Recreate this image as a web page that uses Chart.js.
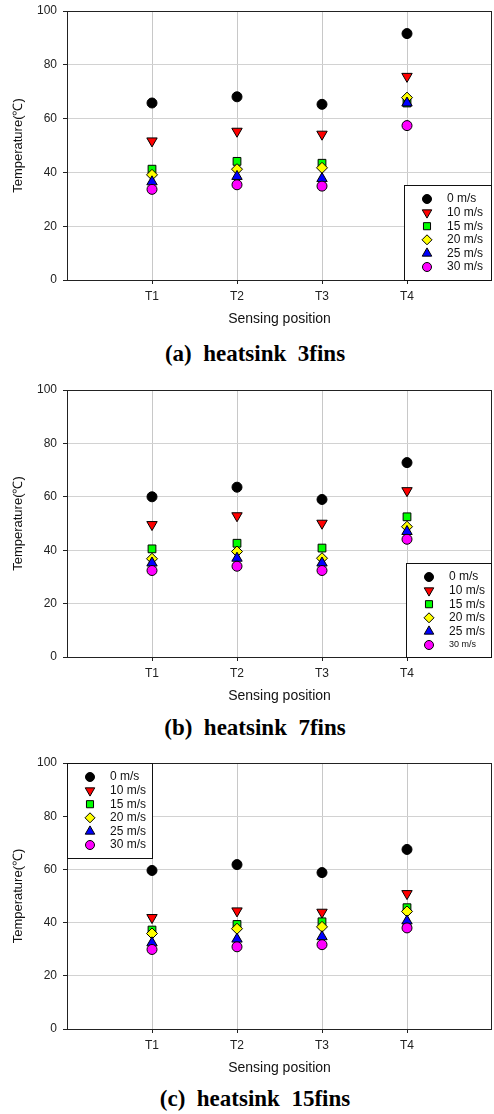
<!DOCTYPE html>
<html>
<head>
<meta charset="utf-8">
<script src="https://cdn.jsdelivr.net/npm/chart.js@4"></script>
<style>
  body { margin: 0; background: #fff; }
  #wrap { position: relative; width: 494px; height: 1114px; overflow: hidden; }
  canvas { position: absolute; left: 0; }
  .cap {
    position: absolute; left: 0; width: 510px; text-align: center;
    font: bold 23px "Liberation Serif", "Times New Roman", serif;
    white-space: pre; line-height: 23px; color: #000;
  }
</style>
</head>
<body>
<div id="wrap"></div>
<script>
'use strict'

// categories / legend / ticks
const positions = ['T1', 'T2', 'T3', 'T4'];
const speeds = ['0 m/s', '10 m/s', '15 m/s', '20 m/s', '25 m/s', '30 m/s'];
const yTicks = [0, 20, 40, 60, 80, 100];

// (a) 3 fins
const fins3_0 = [65.8, 68.1, 65.3, 91.6];
const fins3_10 = [51.7, 55.3, 54.2, 75.7];
const fins3_15 = [41.2, 44.1, 43.4, 65.8];
const fins3_20 = [39.1, 41.2, 41.7, 67.8];
const fins3_25 = [36.5, 38.5, 37.7, 65.8];
const fins3_30 = [33.7, 35.4, 34.9, 57.4];

// (b) 7 fins
const fins7_0 = [60.0, 63.6, 59.0, 72.8];
const fins7_10 = [49.6, 52.9, 50.1, 62.3];
const fins7_15 = [40.5, 42.6, 40.8, 52.5];
const fins7_20 = [36.8, 39.5, 37.0, 48.8];
const fins7_25 = [35.2, 37.0, 35.2, 47.0];
const fins7_30 = [32.4, 34.0, 32.4, 44.1];

// (c) 15 fins
const fins15_0 = [59.6, 61.8, 58.8, 67.5];
const fins15_10 = [41.9, 44.4, 43.9, 50.9];
const fins15_15 = [37.2, 39.3, 40.3, 45.6];
const fins15_20 = [35.9, 37.7, 38.4, 44.2];
const fins15_25 = [32.4, 33.8, 34.7, 40.6];
const fins15_30 = [29.9, 30.9, 31.7, 38.0];

// marker look of each series
const markers = [
  { style: 'circle', color: '#000000', radius: 5, rotation: 0 },
  { style: 'triangle', color: '#ff0000', radius: 6, rotation: 180 },
  { style: 'rect', color: '#00ff00', radius: 5.5, rotation: 0 },
  { style: 'rectRot', color: '#ffff00', radius: 5.5, rotation: 0 },
  { style: 'triangle', color: '#0000ff', radius: 6, rotation: 0 },
  { style: 'circle', color: '#ff00ff', radius: 5, rotation: 0 }
];

const panels = [
  { caption: '(a)  heatsink  3fins', capY: 342, top: 0, height: 330, padTop: 11,
    series: [fins3_0, fins3_10, fins3_15, fins3_20, fins3_25, fins3_30],
    legend: { side: 'right', vert: 'bottom', w: 88, h: 95, smallLast: false } },
  { caption: '(b)  heatsink  7fins', capY: 716, top: 378, height: 329, padTop: 12,
    series: [fins7_0, fins7_10, fins7_15, fins7_20, fins7_25, fins7_30],
    legend: { side: 'right', vert: 'bottom', w: 86, h: 94, smallLast: true } },
  { caption: '(c)  heatsink  15fins', capY: 1087, top: 751, height: 328, padTop: 12,
    series: [fins15_0, fins15_10, fins15_15, fins15_20, fins15_25, fins15_30],
    legend: { side: 'left', vert: 'top', w: 86, h: 95, smallLast: false } }
];

const FONT = 'Liberation Sans, Arial, sans-serif';

// box round the plot area
const frame = {
  id: 'frame',
  beforeDatasetsDraw(chart) {
    const a = chart.chartArea, ctx = chart.ctx;
    ctx.save();
    ctx.strokeStyle = '#222';
    ctx.lineWidth = 1;
    ctx.strokeRect(a.left + 0.5, a.top + 0.5, a.right - a.left - 1, a.bottom - a.top);
    ctx.restore();
  }
};

// legend box drawn inside the plot
const insideLegend = {
  id: 'insideLegend',
  afterDatasetsDraw(chart, args, opts) {
    const a = chart.chartArea, ctx = chart.ctx;
    const x = opts.side === 'left' ? a.left : a.right - opts.w;
    const y = opts.vert === 'top' ? a.top : a.bottom - opts.h;
    ctx.save();
    ctx.fillStyle = '#fff';
    ctx.fillRect(x, y, opts.w, opts.h);
    ctx.strokeStyle = '#111';
    ctx.lineWidth = 1;
    ctx.strokeRect(x + 0.5, y + 0.5, opts.w - 1, opts.h);
    chart.data.datasets.forEach((ds, i) => {
      const cy = y + 14 + i * 13.6;
      ctx.fillStyle = ds.backgroundColor;
      ctx.strokeStyle = '#000';
      Chart.helpers.drawPoint(ctx, {
        pointStyle: ds.pointStyle, radius: ds.pointRadius - 0.5,
        rotation: ds.pointRotation, borderWidth: 1
      }, x + 23, cy);
      const small = opts.smallLast && i === chart.data.datasets.length - 1;
      ctx.fillStyle = '#111';
      ctx.font = (small ? 9 : 12) + 'px ' + FONT;
      ctx.textBaseline = 'middle';
      ctx.fillText(ds.label, x + 43, cy);
    });
    ctx.restore();
  }
};

const wrap = document.getElementById('wrap');

panels.forEach(p => {
  // canvas a bit wider than the page: chart.js keeps ~5px spare on the right
  const cv = document.createElement('canvas');
  cv.width = 499;
  cv.height = p.height;
  cv.style.top = p.top + 'px';
  wrap.appendChild(cv);

  const cap = document.createElement('div');
  cap.className = 'cap';
  cap.style.top = p.capY + 'px';
  cap.textContent = p.caption;
  wrap.appendChild(cap);

  const datasets = p.series.map((vals, i) => ({
    label: speeds[i],
    data: vals.map((v, k) => ({ x: k + 1, y: v })),
    showLine: false,
    pointStyle: markers[i].style,
    pointRadius: markers[i].radius,
    pointRotation: markers[i].rotation,
    backgroundColor: markers[i].color,
    borderColor: '#000',
    borderWidth: 1,
    order: speeds.length - i
  }));

  new Chart(cv, {
    type: 'scatter',
    data: { datasets: datasets },
    options: {
      responsive: false,
      animation: false,
      devicePixelRatio: 1,
      layout: { padding: { top: p.padTop, right: 2, left: 0, bottom: 0 } },
      plugins: {
        legend: { display: false },
        tooltip: { enabled: false },
        insideLegend: p.legend
      },
      scales: {
        x: {
          type: 'linear', min: 0, max: 5,
          afterBuildTicks: s => { s.ticks = positions.map((t, i) => ({ value: i + 1 })); },
          afterFit: s => { s.height = 50; },
          border: { display: false },
          grid: { color: '#c8c8c8', tickColor: '#222', tickLength: 4 },
          ticks: {
            color: '#222', font: { size: 12, family: FONT }, padding: 5,
            maxRotation: 0,
            callback: v => positions[Math.round(v) - 1]
          },
          title: {
            display: true, text: 'Sensing position', color: '#111',
            font: { size: 14, family: FONT }, padding: { top: 4, bottom: 2 }
          }
        },
        y: {
          min: 0, max: 100,
          afterBuildTicks: s => { s.ticks = yTicks.map(v => ({ value: v })); },
          afterFit: s => { s.width = 67; s.paddingTop = 0; s.paddingBottom = 0; },
          border: { display: false },
          grid: {
            color: c => (c.tick && (c.tick.value === 0 || c.tick.value === 100)) ? 'rgba(0,0,0,0)' : '#d2d2d2',
            tickColor: '#222', tickLength: 4
          },
          ticks: { color: '#222', font: { size: 12, family: FONT }, padding: 6 },
          title: {
            display: true, text: 'Temperature(℃)', color: '#111',
            font: { size: 13, family: FONT }, padding: { top: 11, bottom: 0 }
          }
        }
      }
    },
    plugins: [frame, insideLegend]
  });
});
</script>
</body>
</html>
